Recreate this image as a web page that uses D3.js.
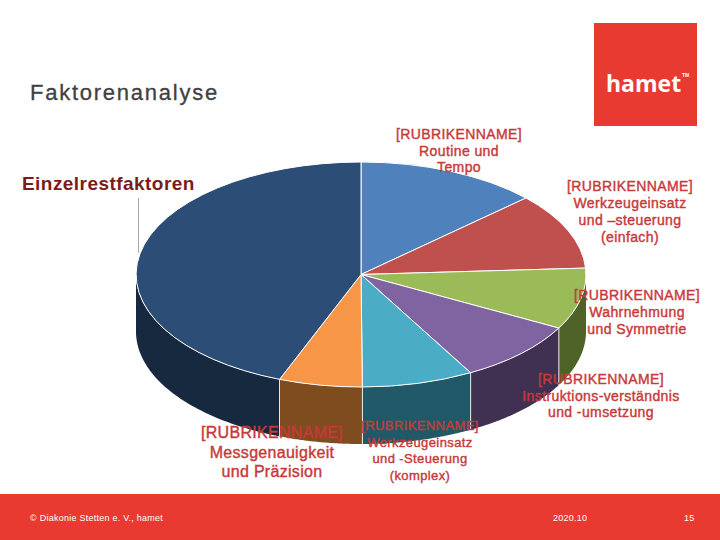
<!DOCTYPE html>
<html><head><meta charset="utf-8">
<script src="https://cdnjs.cloudflare.com/ajax/libs/d3/7.8.5/d3.min.js"></script>
<style>html,body{margin:0;padding:0;background:#fff}svg{display:block}text{font-family:"Liberation Sans",Arial,sans-serif}</style>
</head><body><svg id="c" width="720" height="540"></svg>
<script>
const categories = ["Routine und Tempo","Werkzeugeinsatz und –steuerung (einfach)","Wahrnehmung und Symmetrie","Instruktions-verständnis und -umsetzung","Werkzeugeinsatz und -Steuerung (komplex)","Messgenauigkeit und Präzision","Einzelrestfaktoren"];
const values = [13.1, 11.0, 8.8, 9.0, 8.0, 6.0, 44.1];
const topColors = ["#4f81bd","#c0504d","#9bbb59","#8064a2","#4bacc6","#f79646","#2c4d75"];
const wallColors = ["#2a4a70","#7a2f2d","#4f6228","#403152","#215968","#7f4c1f","#17293f"];
const labelLines = [
 ["[RUBRIKENNAME]","Routine und","Tempo"],
 ["[RUBRIKENNAME]","Werkzeugeinsatz","und –steuerung","(einfach)"],
 ["[RUBRIKENNAME]","Wahrnehmung","und Symmetrie"],
 ["[RUBRIKENNAME]","Instruktions-verständnis","und -umsetzung"],
 ["[RUBRIKENNAME]","Werkzeugeinsatz","und -Steuerung","(komplex)"],
 ["[RUBRIKENNAME]","Messgenauigkeit","und Präzision"]
];
const labelLayout = [
 {x:459,y:139,dy:16.7,size:14},
 {x:630,y:191,dy:17,size:14},
 {x:637,y:300,dy:17,size:14},
 {x:601,y:384,dy:16.7,size:14},
 {x:420,y:430,dy:16.7,size:13},
 {x:272,y:438,dy:19.5,size:16}
];
const svg = d3.select("#c");
const cx=361, cy=274.5, rx=225, ry=112.5, depth=57;
const sx=d3.scaleLinear().domain([-1,1]).range([cx-rx,cx+rx]);
const sy=d3.scaleLinear().domain([-1,1]).range([cy-ry,cy+ry]);
const pie=d3.pie().sort(null).value(d=>d)(values);
const HALF=Math.PI/2;
const wall=d3.area().x(d=>sx(Math.sin(d))).y0(d=>sy(-Math.cos(d))).y1(d=>sy(-Math.cos(d))+depth);

// footer & logo
svg.append("rect").attr("x",0).attr("y",494).attr("width",720).attr("height",46).attr("fill","#e83a30");
svg.append("rect").attr("x",594).attr("y",23).attr("width",103).attr("height",103).attr("fill","#e83a30");
svg.append("text").attr("x",606).attr("y",92).attr("fill","#fff").attr("font-size",23).attr("font-weight",700).style("font-family","'Open Sans'").text("hamet");
svg.append("text").attr("x",682).attr("y",77).attr("fill","#fff").attr("font-size",5).attr("font-weight",700).text("TM");
svg.append("text").attr("x",30).attr("y",100).attr("fill","#404040").attr("font-size",22).attr("letter-spacing",1.75).attr("stroke","#404040").attr("stroke-width",0.3).text("Faktorenanalyse");
svg.append("text").attr("x",22).attr("y",190).attr("fill","#7a1c1c").attr("font-size",19).attr("font-weight",700).attr("letter-spacing",0.45).text(categories[6]);
svg.append("line").attr("x1",138.5).attr("x2",138.5).attr("y1",198).attr("y2",253).attr("stroke","#aaa");

// walls (front half only)
pie.forEach((p,i)=>{
  const a0=Math.max(p.startAngle,HALF), a1=Math.min(p.endAngle,3*HALF);
  if(a1<=a0) return;
  const pts=d3.range(0,61).map(k=>a0+(a1-a0)*k/60);
  svg.append("path").attr("d",wall(pts)).attr("fill",wallColors[i]);
  if(p.startAngle>HALF){
    svg.append("line").attr("x1",sx(Math.sin(a0))).attr("x2",sx(Math.sin(a0)))
      .attr("y1",sy(-Math.cos(a0))).attr("y2",sy(-Math.cos(a0))+depth).attr("stroke","#fff").attr("stroke-opacity",0.85);
  }
});
// top slices
const arc=d3.arc().innerRadius(0).outerRadius(1);
const gTop=svg.append("g").attr("transform",`translate(${cx},${cy}) scale(${rx},${ry})`);
gTop.selectAll("path").data(pie).join("path").attr("d",arc)
  .attr("fill",(d,i)=>topColors[i]).attr("stroke","#fff").attr("stroke-width",1).attr("vector-effect","non-scaling-stroke");

// labels
labelLines.forEach((lines,i)=>{
  const L=labelLayout[i];
  const t=svg.append("text").attr("text-anchor","middle").attr("fill","#c8393a").attr("font-size",L.size).attr("letter-spacing",i===5?0.3:0.4)
    .attr("stroke","#c8393a").attr("stroke-width",0.4);
  lines.forEach((s,k)=>t.append("tspan").attr("x",L.x).attr("y",L.y+k*L.dy).text(s));
});
// footer text
const ft=[["© Diakonie Stetten e. V., hamet",30],["2020.10",553],["15",684]];
svg.selectAll("text.f").data(ft).join("text").attr("class","f").attr("x",d=>d[1]).attr("y",521)
  .attr("fill","#fff").attr("font-size",9).attr("letter-spacing",0.25).text(d=>d[0]);
</script></body></html>
